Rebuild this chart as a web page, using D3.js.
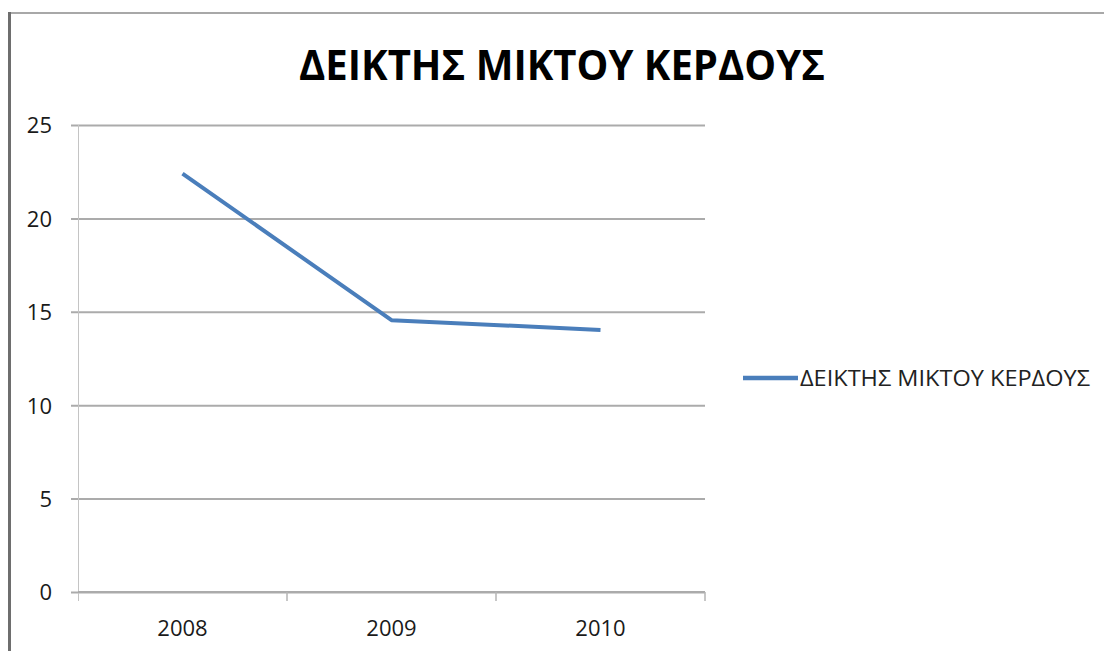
<!DOCTYPE html>
<html>
<head>
<meta charset="utf-8">
<script src="https://cdn.jsdelivr.net/npm/d3@7"></script>
<style>
  html, body { margin: 0; padding: 0; background: #fff; }
  svg { display: block; }
  text { font-family: "Open Sans", "DejaVu Sans", sans-serif; fill: #1a1a1a; }
</style>
</head>
<body>
<svg id="chart" width="1104" height="651"></svg>
<script>
// Gross profit margin by year
const titleText = "ΔΕΙΚΤΗΣ ΜΙΚΤΟΥ ΚΕΡΔΟΥΣ";
const seriesName = "ΔΕΙΚΤΗΣ ΜΙΚΤΟΥ ΚΕΡΔΟΥΣ";
const years = ["2008", "2009", "2010"];
const marginValues = [22.4, 14.55, 14.03];
const yTicks = [0, 5, 10, 15, 20, 25];

const svg = d3.select("#chart");
const W = 1104, H = 651;
const plot = { left: 78, right: 705, top: 125, bottom: 592 };

// chart frame (top and left edges)
svg.append("line")
  .attr("x1", 9).attr("x2", W).attr("y1", 13).attr("y2", 13)
  .attr("stroke", "#a8a8a8").attr("stroke-width", 2);
svg.append("line")
  .attr("x1", 9.5).attr("x2", 9.5).attr("y1", 12).attr("y2", H)
  .attr("stroke", "#6e6e6e").attr("stroke-width", 3);

// title
svg.append("text")
  .attr("x", 562).attr("y", 80)
  .attr("text-anchor", "middle")
  .attr("font-size", 42).attr("font-weight", 700)
  .attr("textLength", 526).attr("lengthAdjust", "spacingAndGlyphs")
  .style("fill", "#000")
  .text(titleText);

const x = d3.scaleBand().domain(years).range([plot.left, plot.right]);
const y = d3.scaleLinear().domain([0, 25]).range([plot.bottom, plot.top]);

// horizontal gridlines with left tick stubs
const yAxis = d3.axisLeft(y).tickValues(yTicks)
  .tickSize(-(plot.right - plot.left)).tickPadding(26).tickFormat(d3.format("d"));
const gy = svg.append("g").attr("transform", `translate(${plot.left},0)`).call(yAxis);
gy.select(".domain").remove();
gy.selectAll(".tick line")
  .attr("x1", -7)
  .attr("stroke", "#ababab").attr("stroke-width", 2);
gy.selectAll(".tick text")
  .attr("font-size", 22).attr("dy", "0.36em")
  .style("fill", "#1a1a1a").style("font-family", "'Open Sans', sans-serif");

// vertical axis line
svg.append("line")
  .attr("x1", plot.left + 0.5).attr("x2", plot.left + 0.5)
  .attr("y1", plot.top).attr("y2", plot.bottom + 9)
  .attr("stroke", "#c4c4c4").attr("stroke-width", 1);

// category axis with ticks at band boundaries
const gx = svg.append("g").attr("transform", `translate(0,${plot.bottom})`);
gx.append("line")
  .attr("x1", plot.left).attr("x2", plot.right)
  .attr("stroke", "#ababab").attr("stroke-width", 2);
const boundaries = years.map(d => x(d)).concat([x(years[years.length - 1]) + x.bandwidth()]);
gx.selectAll("line.tk").data(boundaries.slice(1)).join("line")
  .attr("class", "tk")
  .attr("x1", d => d).attr("x2", d => d)
  .attr("y1", 0).attr("y2", 9)
  .attr("stroke", "#b4b4b4").attr("stroke-width", 1.5);
gx.selectAll("text").data(years).join("text")
  .attr("x", d => x(d) + x.bandwidth() / 2)
  .attr("y", 44)
  .attr("text-anchor", "middle")
  .attr("font-size", 22)
  .text(d => d);

// series line
const line = d3.line()
  .x((d, i) => x(years[i]) + x.bandwidth() / 2)
  .y(d => y(d));
svg.append("path")
  .datum(marginValues)
  .attr("d", line)
  .attr("fill", "none")
  .attr("stroke", "#4a7ebb")
  .attr("stroke-width", 4)
  .attr("stroke-linejoin", "round");

// legend
const lg = svg.append("g").attr("transform", "translate(743,378)");
lg.append("line")
  .attr("x1", 0).attr("x2", 55).attr("y1", 0).attr("y2", 0)
  .attr("stroke", "#4a7ebb").attr("stroke-width", 4.5);
lg.append("text")
  .attr("x", 57).attr("y", 8)
  .attr("font-size", 22)
  .attr("textLength", 290).attr("lengthAdjust", "spacingAndGlyphs")
  .style("fill", "#222")
  .text(seriesName);
</script>
</body>
</html>
